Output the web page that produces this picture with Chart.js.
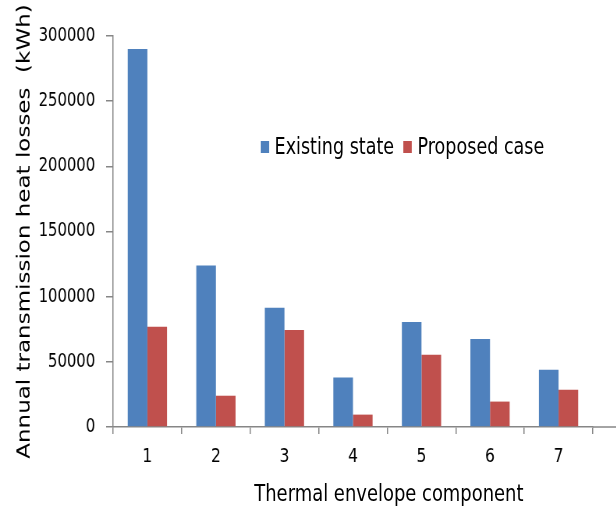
<!DOCTYPE html>
<html>
<head>
<meta charset="utf-8">
<script src="https://cdn.jsdelivr.net/npm/chart.js@4.4.0/dist/chart.umd.min.js"></script>
<style>
  html, body { margin: 0; padding: 0; background: #fff; overflow: hidden; }
  /* the original picture is squeezed horizontally, so draw wide and squeeze */
  #wrap { position: relative; width: 790px; height: 506px; transform: scaleX(0.78); transform-origin: 0 0; }
  #legend { position: absolute; left: 334px; top: 135px; display: flex; align-items: center;
            font-family: 'DejaVu Sans', sans-serif; font-size: 22.5px; line-height: 23px; color: #000; }
  #legend .box { width: 11px; height: 12px; margin-right: 7px; }
  #legend .item { display: flex; align-items: center; margin-right: 12px; }
  #xTitle { position: absolute; left: 326px; top: 482px; font-family: 'DejaVu Sans', sans-serif;
            font-size: 23px; line-height: 23px; color: #000; white-space: nowrap; }
</style>
</head>
<body>
<div id="wrap">
  <canvas id="chart" width="790" height="506"></canvas>
  <div id="legend"></div>
  <div id="xTitle"></div>
</div>
<script>
// 資料
const components = ['1', '2', '3', '4', '5', '6', '7'];
const existingState = [290000, 124000, 91500, 38000, 80500, 67500, 44000];
const proposedCase = [77000, 24000, 74500, 9500, 55500, 19500, 28500];
const seriesNames = ['Existing state', 'Proposed case'];
const seriesColors = ['#4F81BD', '#C0504D'];
const yTicks = [0, 50000, 100000, 150000, 200000, 250000, 300000];
const xTitle = 'Thermal envelope component';
const yTitle = 'Annual transmission heat losses  (kWh)';

const axisColor = '#868686';
Chart.defaults.font.family = "'DejaVu Sans', sans-serif";
Chart.defaults.color = '#000';

// x 軸線延伸到右邊
const axisExtend = {
    id: 'axisExtend',
    afterDraw(chart) {
        const ctx = chart.ctx;
        const area = chart.chartArea;
        ctx.save();
        ctx.strokeStyle = axisColor;
        ctx.lineWidth = 1.5;
        ctx.beginPath();
        ctx.moveTo(area.right, area.bottom);
        ctx.lineTo(chart.width, area.bottom);
        ctx.stroke();
        ctx.restore();
    }
};

const chart = new Chart(document.getElementById('chart'), {
    type: 'bar',
    data: {
        labels: components,
        datasets: [{
            label: seriesNames[0],
            data: existingState,
            backgroundColor: seriesColors[0]
        }, {
            label: seriesNames[1],
            data: proposedCase,
            backgroundColor: seriesColors[1]
        }]
    },
    options: {
        responsive: false,
        animation: false,
        layout: { padding: { top: 36, right: 30, left: 0, bottom: 0 } },
        plugins: {
            legend: { display: false },
            tooltip: { enabled: false }
        },
        datasets: {
            bar: { categoryPercentage: 0.573, barPercentage: 1.0 }
        },
        scales: {
            x: {
                grid: { offset: true, drawOnChartArea: false, drawTicks: true, tickLength: 7, color: axisColor, lineWidth: 1.5 },
                border: { color: axisColor, width: 1.5 },
                ticks: { font: { size: 20 }, padding: 11, color: '#000' },
                afterFit: scale => { scale.height = 79; }
            },
            y: {
                min: 0,
                max: 300000,
                afterBuildTicks: scale => { scale.ticks = yTicks.map(v => ({ value: v })); },
                grid: { drawOnChartArea: false, drawTicks: true, tickLength: 9, color: axisColor, lineWidth: 1.5 },
                border: { color: axisColor, width: 1.5 },
                ticks: { font: { size: 19 }, padding: 14, color: '#000', callback: v => String(v) },
                title: { display: true, text: yTitle, font: { size: 23 }, color: '#000', padding: { top: 18, bottom: 0 } },
                afterFit: scale => { scale.width = 145; }
            }
        }
    },
    plugins: [axisExtend]
});

// 圖例
const legend = document.getElementById('legend');
seriesNames.forEach((name, i) => {
    const item = document.createElement('div');
    item.className = 'item';
    item.innerHTML = `<span class="box" style="background:${seriesColors[i]}"></span><span>${name}</span>`;
    legend.appendChild(item);
});
document.getElementById('xTitle').textContent = xTitle;
</script>
</body>
</html>
